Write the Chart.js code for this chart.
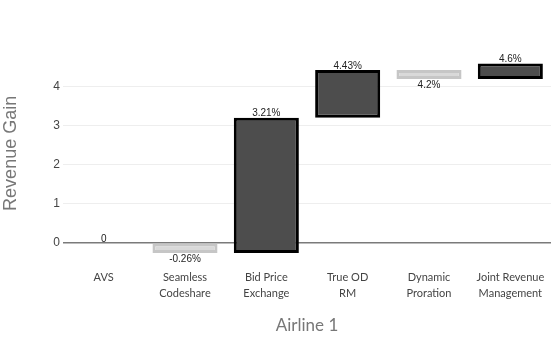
<!DOCTYPE html>
<html>
<head>
<meta charset="utf-8">
<script src="https://cdn.jsdelivr.net/npm/chart.js@4"></script>
<style>
  html, body { margin: 0; padding: 0; background: #fff; }
  #wrap { width: 551px; height: 338px; }
</style>
</head>
<body>
<div id="wrap"><canvas id="canvasWaterfall"></canvas></div>
<script>
// waterfall data
// =================================
const categories = ['AVS', ['Seamless', 'Codeshare'], ['Bid Price', 'Exchange'], ['True OD', 'RM'], ['Dynamic', 'Proration'], ['Joint Revenue', 'Management']];
const totals = [0, -0.26, 3.21, 4.43, 4.2, 4.6];   // running total after each step
const yTicks = [0, 1, 2, 3, 4];

// floating bars: from previous total to this total
const steps = totals.map((v, i) => [i === 0 ? 0 : totals[i - 1], v]);
const isUp = steps.map(s => s[1] >= s[0]);

// draws the value text next to each bar
const barText = {
  id: 'barText',
  afterDatasetsDraw(chart) {
    const ctx = chart.ctx;
    const meta = chart.getDatasetMeta(0);
    ctx.save();
    ctx.font = '10px "Liberation Sans", Arial, sans-serif';
    ctx.fillStyle = '#222';
    ctx.textAlign = 'center';
    ctx.textBaseline = 'middle';
    meta.data.forEach((bar, i) => {
      const v = totals[i];
      const txt = v === 0 ? '0' : v + '%';
      const top = Math.min(bar.y, bar.base);
      const bottom = Math.max(bar.y, bar.base);
      if (isUp[i]) ctx.fillText(txt, bar.x, top - 4);
      else ctx.fillText(txt, bar.x, bottom + 6);
    });
    ctx.restore();
  }
};

const ctx = document.getElementById('canvasWaterfall').getContext('2d');
const chart = new Chart(ctx, {
  type: 'bar',
  data: {
    labels: categories,
    datasets: [{
      data: steps,
      backgroundColor: isUp.map(u => u ? '#4d4d4d' : '#d9d9d9'),
      borderColor: isUp.map(u => u ? '#000' : '#c6c6c6'),
      borderWidth: 3,
      borderSkipped: false,
      barPercentage: 0.8,
      categoryPercentage: 1
    }]
  },
  options: {
    responsive: true,
    maintainAspectRatio: false,
    animation: false,
    layout: { padding: { top: 51, right: 0, left: 0, bottom: 2 } },
    plugins: {
      legend: { display: false },
      tooltip: { enabled: false }
    },
    scales: {
      x: {
        afterFit(axis) { axis.paddingLeft = 0; axis.paddingRight = 0; },
        grid: { display: false, drawTicks: false },
        border: { display: false },
        ticks: {
          color: '#444',
          font: { family: 'Lato', size: 11, lineHeight: 1.45 },
          padding: 14,
          maxRotation: 0,
          autoSkip: false
        },
        title: {
          display: true,
          text: 'Airline 1',
          color: '#777',
          font: { family: 'Lato', size: 17 },
          padding: { top: 0, bottom: 0 }
        }
      },
      y: {
        min: -0.33,
        max: 4.92,
        afterBuildTicks(axis) { axis.ticks = yTicks.map(v => ({ value: v })); },
        afterFit(axis) { axis.width = 63; },
        grid: {
          drawTicks: false,
          color: c => c.tick && c.tick.value === 0 ? '#7a7a7a' : '#eeeeee',
          lineWidth: c => c.tick && c.tick.value === 0 ? 1.5 : 1
        },
        border: { display: false },
        ticks: {
          color: '#444',
          font: { family: '"Liberation Sans", Arial', size: 12 },
          padding: 3
        },
        title: {
          display: true,
          text: 'Revenue Gain',
          color: '#777',
          font: { family: '"Liberation Sans", Arial', size: 18 },
          padding: { top: 0, bottom: 12 }
        }
      }
    }
  },
  plugins: [barText]
});
</script>
</body>
</html>
